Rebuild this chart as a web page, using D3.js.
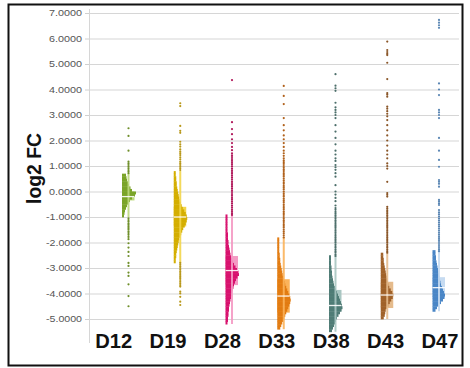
<!DOCTYPE html>
<html><head><meta charset="utf-8">
<script src="https://cdn.jsdelivr.net/npm/d3@7"></script>
<style>html,body{margin:0;padding:0;background:#fff;}svg{display:block;}</style>
</head><body>
<svg id="chart" width="470" height="368"></svg>
<script>
const categories = ["D12","D19","D28","D33","D38","D43","D47"];
const yTicks = [-5,-4,-3,-2,-1,0,1,2,3,4,5,6,7];
const yTickLabels = ["-5.0000","-4.0000","-3.0000","-2.0000","-1.0000","0.0000","1.0000","2.0000","3.0000","4.0000","5.0000","6.0000","7.0000"];
const yTitle = "log2 FC";

// histogram: top value of first bin, bin step 0.1, counts going downward
const histTop = [0.7, 0.8, -0.9, -1.8, -2.5, -2.4, -2.3];
const histStep = 0.1;
const histD12 = [4,4.5,5,6,7,8.5,10,14,13,10,8,6.5,5,4,3,2.5,2];
const histD19 = [2,2,2.5,2.5,3,3,3.5,4,4.5,5,5.5,6,7,8,9,10.5,12,13,13.5,13,12,11,9.5,8.5,7.5,6.5,5.5,5,4.5,4,3.5,3,2.5,2.5,2,2];
const histD28 = [2,2,2,2,2,2,2,2.5,2.5,2.5,3,3,3.5,4,4.5,5,5.5,6.5,7.5,8.5,10,11.5,13,13.5,12,10.5,9.5,8.5,8,7,6.5,6,5.5,5,4.5,4,3.5,3.5,3,3,2.5,2.5,2];
const histD33 = [2,2,2,2,2,2,2.5,2.5,3,3,3.5,4,4.5,5,5.5,6,6.5,7.5,8,9,10,11,12,13,13.5,13,12,11,10,9,8,7,6,5,4,3];
const histD38 = [2,2,2,2,2.5,2.5,3,3,3.5,4,4.5,5,6,7,8,9,10,11,12,13,13.5,12.5,11,9.5,8,7,6,5,4,3];
const histD43 = [2.5,2.5,3,3,3.5,4,4.5,5,5.5,6,6.5,7,7.5,8.5,10,11.5,12.5,12,10.5,9,7.5,6,5,4.5,4,3];
const histD47 = [3,3,3.5,3.5,4,4.5,5,5.5,6,6.5,7,7.5,8,8.5,9.5,10.5,11.5,12.5,12,10.5,8.5,6.5,4.5,3];
const histCounts = [histD12, histD19, histD28, histD33, histD38, histD43, histD47];

// box (quartiles + median) and whisker range
const q1 = [-0.35, -1.37, -3.67, -4.75, -4.69, -4.57, -4.15];
const median = [-0.2, -1.0, -3.1, -4.1, -4.47, -4.06, -3.77];
const q3 = [0.0, -0.6, -2.53, -3.44, -3.86, -3.54, -3.36];
const whiskerLo = [-1.0, -2.8, -5.2, -5.4, -5.5, -5.0, -4.7];
const whiskerHi = [0.7, 0.8, -0.9, -1.8, -2.5, -2.4, -2.3];

// outlier points
const ptsD12 = [2.48,2.18,1.6,1.17,1.1,1.04,0.97,0.91,0.84,0.78,0.72,-1.05,-1.12,-1.18,-1.25,-1.31,-1.38,-1.44,-1.5,-1.57,-1.63,-1.7,-1.78,-1.87,-2.03,-2.2,-2.37,-2.53,-2.8,-2.92,-3.18,-3.31,-3.64,-4.1,-4.5];
const ptsD19 = [3.46,3.35,2.57,2.38,2.3,1.95,1.85,1.76,1.65,1.56,1.5,1.43,1.34,1.26,1.17,1.1,1.04,0.97,0.91,0.84,-2.8,-2.87,-2.94,-3.0,-3.07,-3.14,-3.2,-3.27,-3.34,-3.4,-3.47,-3.54,-3.6,-3.67,-3.73,-3.93,-4.0,-4.13,-4.32,-4.45];
const ptsD28 = [4.37,2.72,2.45,2.25,2.05,1.9,1.75,1.62,1.5,1.42,1.35,1.27,1.2,1.12,1.05,0.98,0.9,0.83,0.76,0.7,0.62,0.55,0.48,0.4,0.33,0.26,0.2,0.12,0.05,-0.02,-0.1,-0.17,-0.25,-0.32,-0.4,-0.47,-0.55,-0.62,-0.7,-0.77,-0.85,-0.92];
const ptsD33 = [4.14,3.75,3.43,2.88,2.6,2.4,2.2,2.05,1.9,1.75,1.6,1.5,1.4,1.3,1.22,1.15,1.08,1.0,0.93,0.86,0.8,0.72,0.65,0.58,0.5,0.43,0.36,0.3,0.22,0.15,0.08,0.0,-0.07,-0.14,-0.2,-0.28,-0.35,-0.42,-0.5,-0.57,-0.64,-0.7,-0.78,-0.85,-0.92,-1.0,-1.07,-1.14,-1.2,-1.28,-1.35,-1.42,-1.5,-1.57,-1.64,-1.72,-1.8];
const ptsD38 = [4.6,4.15,4.05,3.95,3.48,3.3,3.2,3.1,3.0,2.88,2.6,2.35,2.1,1.85,1.6,1.45,1.3,1.2,1.04,0.95,0.85,0.72,0.58,0.25,0.0,-0.12,-0.25,-0.38,-0.55,-0.65,-0.72,-0.8,-0.87,-0.94,-1.0,-1.07,-1.14,-1.2,-1.27,-1.34,-1.4,-1.47,-1.54,-1.6,-1.67,-1.74,-1.8,-1.87,-1.94,-2.0,-2.07,-2.14,-2.2,-2.27,-2.34,-2.4,-2.47,-2.53];
const ptsD43 = [5.88,5.55,5.47,5.4,5.35,5.05,4.41,3.86,3.8,3.72,3.33,3.25,3.15,3.05,2.95,2.8,2.6,2.4,2.2,2.0,1.8,1.6,1.45,1.3,1.1,1.0,0.9,0.38,-0.06,-0.13,-0.2,-0.6,-0.67,-0.74,-0.8,-0.87,-0.94,-1.0,-1.07,-1.14,-1.2,-1.27,-1.34,-1.4,-1.47,-1.54,-1.6,-1.67,-1.74,-1.8,-1.87,-1.94,-2.0,-2.07,-2.14,-2.2,-2.27,-2.34,-2.4];
const ptsD47 = [6.73,6.62,6.52,6.42,4.24,4.0,3.78,3.2,3.1,3.0,2.88,2.1,1.6,1.24,0.97,0.45,0.38,0.3,0.19,-0.33,-0.4,-0.47,-0.53,-0.73,-0.82,-0.9,-0.98,-1.06,-1.14,-1.22,-1.3,-1.38,-1.46,-1.54,-1.62,-1.7,-1.78,-1.86,-1.94,-2.02,-2.1,-2.18,-2.26,-2.34];
const points = [ptsD12, ptsD19, ptsD28, ptsD33, ptsD38, ptsD43, ptsD47];

const darkColors = ["#7aa428","#d4ae00","#d8126e","#e27c12","#4f7c76","#a0622a","#4a86c6"];
const lightColors = ["#bcd97c","#f2d54a","#f49ac4","#fbb35a","#a9c6c2","#e5bb8c","#c6dbf1"];
const pointColors = ["#6f8f2a","#b8981a","#b0185a","#b0601a","#4c6e6a","#8a5628","#5a86b4"];

const svg = d3.select("#chart");
const y = d3.scaleLinear().domain([-5, 7]).range([319, 13]);
const x = d3.scalePoint().domain(categories).range([128.5, 439]);
const xLab = d3.scalePoint().domain(categories).range([113.7, 440]);
const wScale = d3.scaleLinear().domain([0, 14]).range([0, 14]);
const histLeft = 6.5, boxRight = 6;

// frame
svg.append("rect").attr("x", 8.5).attr("y", 4.5).attr("width", 454).attr("height", 361)
  .attr("fill", "#fff").attr("stroke", "#111").attr("stroke-width", 2);

// gridlines
const grid = svg.append("g").attr("transform", "translate(89,0)")
  .call(d3.axisRight(y).tickValues(yTicks).tickSize(370).tickFormat(""));
grid.select(".domain").remove();
grid.selectAll(".tick line").attr("stroke", "#d6d6d6").attr("stroke-width", 1.2);

// left axis
const ax = svg.append("g").attr("transform", "translate(89,0)")
  .call(d3.axisLeft(y).tickValues(yTicks).tickSize(4).tickPadding(3)
    .tickFormat((d, i) => yTickLabels[yTicks.indexOf(d)]));
ax.select(".domain").remove();
ax.selectAll(".tick line").attr("stroke", "#d0d0d0");
ax.selectAll(".tick text").attr("fill", "#555").attr("font-family", "Liberation Sans, Arial, sans-serif")
  .attr("font-size", 9.2).attr("textLength", d => d < 0 ? 36 : 33).attr("lengthAdjust", "spacingAndGlyphs");
svg.append("line").attr("x1", 89.5).attr("x2", 89.5).attr("y1", 9).attr("y2", 343)
  .attr("stroke", "#d6d6d6").attr("stroke-width", 1);

// groups
categories.forEach((cat, i) => {
  const c = x(cat);
  const g = svg.append("g");
  // box
  g.append("rect").attr("x", c - histLeft).attr("y", y(q3[i]))
    .attr("width", histLeft + boxRight).attr("height", y(q1[i]) - y(q3[i]))
    .attr("fill", lightColors[i]);
  // histogram
  g.selectAll("rect.bin").data(histCounts[i]).enter().append("rect").attr("class", "bin")
    .attr("x", c - histLeft)
    .attr("y", (d, k) => y(histTop[i] - k * histStep))
    .attr("width", d => wScale(d))
    .attr("height", (d, k) => y(histTop[i] - (k + 1) * histStep) - y(histTop[i] - k * histStep) + 0.4)
    .attr("fill", darkColors[i]);
  // whisker line
  g.append("line").attr("x1", c).attr("x2", c).attr("y1", y(whiskerHi[i])).attr("y2", y(whiskerLo[i]))
    .attr("stroke", lightColors[i]).attr("stroke-width", 2).attr("opacity", 0.9);
  // median
  g.append("line").attr("x1", c - histLeft).attr("x2", c + boxRight)
    .attr("y1", y(median[i])).attr("y2", y(median[i]))
    .attr("stroke", "#fff").attr("stroke-width", 1.3).attr("opacity", 0.9);
  // points
  g.selectAll("circle").data(points[i]).enter().append("circle")
    .attr("cx", c).attr("cy", d => y(d)).attr("r", 1.1).attr("fill", pointColors[i]);
});

// x labels
svg.selectAll("text.xl").data(categories).enter().append("text").attr("class", "xl")
  .attr("x", d => xLab(d)).attr("y", 347.5).attr("text-anchor", "middle")
  .attr("font-family", "Liberation Sans, Arial, sans-serif").attr("font-weight", "bold")
  .attr("font-size", 19.5).attr("fill", "#111")
  .attr("textLength", 37).attr("lengthAdjust", "spacingAndGlyphs").text(d => d);

// y title
svg.append("text").attr("transform", "translate(41,168.5) rotate(-90)")
  .attr("text-anchor", "middle").attr("font-family", "Liberation Sans, Arial, sans-serif")
  .attr("font-weight", "bold").attr("font-size", 20).attr("fill", "#111")
  .attr("textLength", 71).attr("lengthAdjust", "spacingAndGlyphs").text(yTitle);
</script>
</body></html>
